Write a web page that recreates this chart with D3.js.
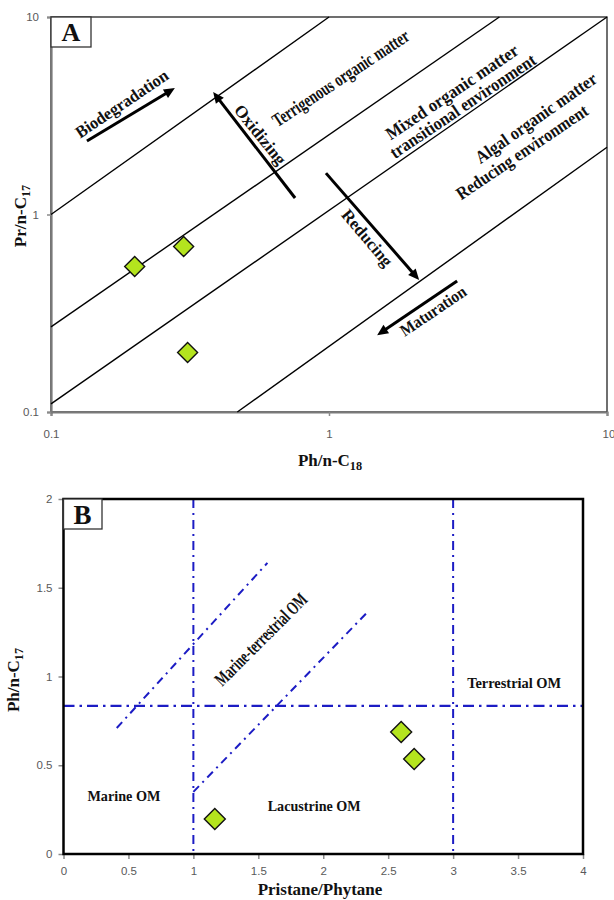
<!DOCTYPE html>
<html>
<head>
<meta charset="utf-8">
<script src="https://cdn.jsdelivr.net/npm/d3@7"></script>
<style>
  html, body { margin: 0; padding: 0; background: #fff; }
  svg { display: block; }
  .tick text { font-family: "Liberation Sans", Arial, sans-serif; font-size: 11.5px; fill: #595959; }
  .ann { font-family: "Liberation Serif", "Times New Roman", serif; font-weight: bold; fill: #111; }
</style>
</head>
<body>
<svg id="chart" width="614" height="900"></svg>
<script>
// ---- Panel A: Pr/n-C17 versus Ph/n-C18 (log-log) ----
const phC18 = [0.2, 0.3, 0.31];
const prC17 = [0.545, 0.688, 0.2];
const logTicks = [0.1, 1, 10];

// environment boundary lines, given as end points [x0, y0, x1, y1]
const boundaryA = [
  [0.1, 1, 1, 10],
  [0.1, 0.27, 4.1, 10],
  [0.1, 0.11, 10, 10],
  [0.468, 0.1, 10, 2.19]
];

// process arrows [x0, y0, x1 (tip), y1 (tip)]
const arrowsA = [
  [0.1347, 2.356, 0.279, 4.37],   // biodegradation
  [0.755, 1.212, 0.383, 4.17],    // oxidizing
  [0.975, 1.62, 2.11, 0.466],     // reducing
  [2.89, 0.46, 1.49, 0.245]       // maturation
];

// text annotations: [label, x, y, angle, length, size]
const labelsA = [
  ["Biodegradation", 0.18, 3.63, -34, 108, 17],
  ["Terrigenous organic matter", 1.10, 4.91, -33.5, 160, 19],
  ["Oxidizing", 0.565, 2.53, 51, 72, 17],
  ["Reducing", 1.37, 0.76, 50, 69, 17],
  ["Maturation", 2.37, 0.324, -34, 76, 17],
  ["Mixed organic matter", 2.77, 4.17, -34, 156, 18],
  ["transitional environment", 3.03, 3.54, -34, 172, 18],
  ["Algal organic matter", 5.55, 3.08, -35, 144, 18],
  ["Reducing environment", 4.95, 2.07, -34, 155, 18]
];

// ---- Panel B: Ph/n-C17 versus Pristane/Phytane ----
const prPh = [2.6, 2.7, 1.165];
const phC17 = [0.687, 0.535, 0.197];
const linTicksX = [0, 0.5, 1, 1.5, 2, 2.5, 3, 3.5, 4];
const linTicksY = [0, 0.5, 1, 1.5, 2];
const dividerY = 0.834;
const dividersX = [1, 3];
const diagonalsB = [
  [0.41, 0.71, 1.57, 1.64],
  [1.0, 0.35, 2.35, 1.37]
];
const labelsB = [
  ["Marine OM", 0.465, 0.327, 0, 73, 15],
  ["Lacustrine OM", 1.93, 0.27, 0, 93, 15],
  ["Terrestrial OM", 3.47, 0.963, 0, 94, 15],
  ["Marine-terrestrial OM", 1.52, 1.21, -45, 122, 19]
];

const svg = d3.select("#chart");
const DIAMOND_FILL = "#b4e41e";
const BLUE = "#1c1cc4";

function addSubscriptText(sel, main, sub) {
  sel.append("tspan").text(main);
  sel.append("tspan").attr("font-size", "0.72em").attr("dy", "0.3em").text(sub);
}

function drawArrow(g, x0, y0, x1, y1, w) {
  const dx = x1 - x0, dy = y1 - y0, len = Math.hypot(dx, dy);
  const ux = dx / len, uy = dy / len;
  const hl = 11, hw = 5;
  const bx = x1 - ux * hl, by = y1 - uy * hl;
  g.append("line").attr("x1", x0).attr("y1", y0).attr("x2", bx + ux * 1).attr("y2", by + uy * 1)
    .attr("stroke", "#000").attr("stroke-width", w);
  g.append("path")
    .attr("d", `M${x1},${y1}L${bx - uy * hw},${by + ux * hw}L${bx + uy * hw},${by - ux * hw}Z`)
    .attr("fill", "#000");
}

function diamond(g, cx, cy, r) {
  g.append("path")
    .attr("d", `M${cx},${cy - r}L${cx + r},${cy}L${cx},${cy + r}L${cx - r},${cy}Z`)
    .attr("fill", DIAMOND_FILL).attr("stroke", "#111").attr("stroke-width", 1.4);
}

function drawLabels(g, labels, x, y) {
  labels.forEach(([t, lx, ly, ang, len, size]) => {
    const px = x(lx), py = y(ly);
    g.append("text").attr("class", "ann")
      .attr("transform", `translate(${px},${py}) rotate(${ang})`)
      .attr("text-anchor", "middle").attr("dominant-baseline", "central")
      .attr("font-size", size)
      .attr("textLength", len).attr("lengthAdjust", "spacingAndGlyphs")
      .text(t);
  });
}

// ================= Panel A =================
(function () {
  const L = 51, R = 607, T = 17, B = 412;
  const x = d3.scaleLog().domain([0.1, 10]).range([L, R]);
  const y = d3.scaleLog().domain([0.1, 10]).range([B, T]);
  const g = svg.append("g");

  g.append("rect").attr("x", L).attr("y", T).attr("width", R - L).attr("height", B - T)
    .attr("fill", "none").attr("stroke", "#222").attr("stroke-width", 1.3);

  const fmt = d => String(d);
  const ax = g.append("g").attr("transform", `translate(0,${B})`)
    .call(d3.axisBottom(x).tickValues(logTicks).tickFormat(fmt).tickSize(4).tickPadding(14));
  const ay = g.append("g").attr("transform", `translate(${L},0)`)
    .call(d3.axisLeft(y).tickValues(logTicks).tickFormat(fmt).tickSize(4).tickPadding(8));
  [ax, ay].forEach(a => {
    a.select(".domain").attr("stroke", "#7a7a7a").attr("stroke-width", 2.2);
    a.selectAll(".tick line").attr("stroke", "#8a8a8a").attr("stroke-width", 1.5);
  });
  ax.selectAll(".tick text").filter(d => d === 10).attr("text-anchor", "start").attr("dx", "-5");

  boundaryA.forEach(([x0, y0, x1, y1]) => {
    g.append("line").attr("x1", x(x0)).attr("y1", y(y0)).attr("x2", x(x1)).attr("y2", y(y1))
      .attr("stroke", "#000").attr("stroke-width", 1.4);
  });

  arrowsA.forEach(([x0, y0, x1, y1]) => drawArrow(g, x(x0), y(y0), x(x1), y(y1), 3));
  drawLabels(g, labelsA, x, y);

  phC18.forEach((v, i) => diamond(g, x(v), y(prC17[i]), 10));

  // panel tag
  g.append("rect").attr("x", L).attr("y", T).attr("width", 40).attr("height", 30)
    .attr("fill", "#fff").attr("stroke", "#333").attr("stroke-width", 1.3);
  g.append("text").attr("class", "ann").attr("x", L + 20).attr("y", T + 24)
    .attr("text-anchor", "middle").attr("font-size", 26).text("A");

  const yt = g.append("text").attr("class", "ann").attr("font-size", 17)
    .attr("transform", `translate(26,216) rotate(-90)`).attr("text-anchor", "middle");
  addSubscriptText(yt, "Pr/n-C", "17");
  const xt = g.append("text").attr("class", "ann").attr("font-size", 17)
    .attr("x", 330).attr("y", 466).attr("text-anchor", "middle");
  addSubscriptText(xt, "Ph/n-C", "18");
})();

// ================= Panel B =================
(function () {
  const L = 63.5, R = 583, T = 499, B = 854;
  const x = d3.scaleLinear().domain([0, 4]).range([L, R]);
  const y = d3.scaleLinear().domain([0, 2]).range([B, T]);
  const g = svg.append("g");

  const fmt = d => String(d);
  const ax = g.append("g").attr("transform", `translate(0,${B})`)
    .call(d3.axisBottom(x).tickValues(linTicksX).tickFormat(fmt).tickSize(5).tickPadding(8));
  const ay = g.append("g").attr("transform", `translate(${L},0)`)
    .call(d3.axisLeft(y).tickValues(linTicksY).tickFormat(fmt).tickSize(5).tickPadding(6));
  [ax, ay].forEach(a => {
    a.select(".domain").remove();
    a.selectAll(".tick line").attr("stroke", "#8a8a8a").attr("stroke-width", 1.5);
  });

  // quadrant dividers
  g.append("line").attr("x1", x(0)).attr("x2", x(4)).attr("y1", y(dividerY)).attr("y2", y(dividerY))
    .attr("stroke", BLUE).attr("stroke-width", 2.2).attr("stroke-dasharray", "11,5,2.5,5");
  dividersX.forEach(v => {
    g.append("line").attr("x1", x(v)).attr("x2", x(v)).attr("y1", y(2)).attr("y2", y(0.01))
      .attr("stroke", BLUE).attr("stroke-width", 2).attr("stroke-dasharray", "9,5,2,5");
  });
  diagonalsB.forEach(([x0, y0, x1, y1]) => {
    g.append("line").attr("x1", x(x0)).attr("y1", y(y0)).attr("x2", x(x1)).attr("y2", y(y1))
      .attr("stroke", BLUE).attr("stroke-width", 2).attr("stroke-dasharray", "8,5,2,5");
  });

  g.append("rect").attr("x", L).attr("y", T).attr("width", R - L).attr("height", B - T)
    .attr("fill", "none").attr("stroke", "#000").attr("stroke-width", 2.5);

  drawLabels(g, labelsB, x, y);

  prPh.forEach((v, i) => diamond(g, x(v), y(phC17[i]), 10.5));

  g.append("rect").attr("x", L).attr("y", T).attr("width", 38.5).attr("height", 30)
    .attr("fill", "#fff").attr("stroke", "#333").attr("stroke-width", 1.3);
  g.append("text").attr("class", "ann").attr("x", L + 19).attr("y", T + 25)
    .attr("text-anchor", "middle").attr("font-size", 27).text("B");

  const yt = g.append("text").attr("class", "ann").attr("font-size", 17)
    .attr("transform", `translate(19,680) rotate(-90)`).attr("text-anchor", "middle");
  addSubscriptText(yt, "Ph/n-C", "17");
  g.append("text").attr("class", "ann").attr("font-size", 17)
    .attr("x", 320).attr("y", 895).attr("text-anchor", "middle").text("Pristane/Phytane");
})();
</script>
</body>
</html>
